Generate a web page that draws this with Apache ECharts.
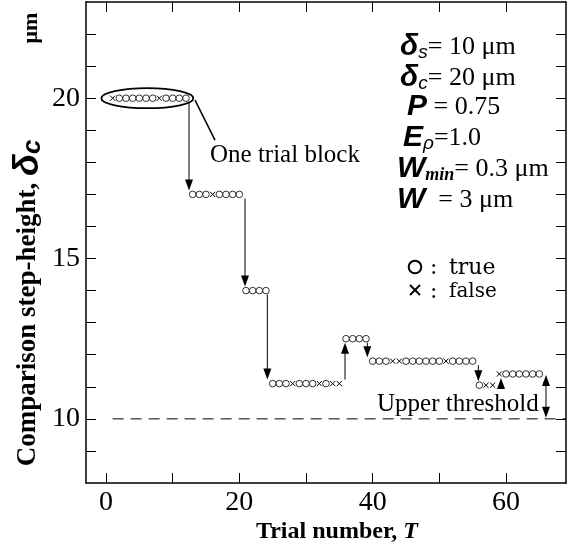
<!DOCTYPE html>
<html><head><meta charset="utf-8">
<script src="https://cdn.jsdelivr.net/npm/echarts@6/dist/echarts.min.js"></script>
<style>html,body{margin:0;padding:0;background:#fff}#c{width:583px;height:554px}</style>
</head><body><div id="c"></div>
<script>
// ---- data ----
const blockStarts   = [1, 13, 21, 25, 36, 40, 56, 59];
const blockLevels   = [20, 17, 14, 11.1, 12.5, 11.8, 11.05, 11.4];
const blockOutcomes = ['xooooooxoooo', 'oooxoooo', 'oooo', 'oooxoooxoxx', 'oooo', 'oooxxooooooxoooo', 'oxx', 'xoooooo'];
const arrowTrials   = [12.45, 20.85, 24.2, 35.85, 39.2, 55.85, 59.25];
const thresholdLevel = 10;
const thresholdTrials = [1, 69];
const boundArrow = [66, 11.4, 10];
const xTickValues = [0, 10, 20, 30, 40, 50, 60];
const xLabelValues = [0, 20, 40, 60];
const yTickValues = [9, 10, 11, 12, 13, 14, 15, 16, 17, 18, 19, 20, 21, 22];
const yLabelValues = [10, 15, 20];
const xRange = [-3, 69];
const yRange = [8, 23];
const blockEllipse = [6.2, 20, 6.9];
const leader = [[13.35, 19.94], [16.35, 18.69]];

// ---- build marks ----
const truePts = [], falsePts = [];
blockStarts.forEach((s, b) => {
  blockOutcomes[b].split('').forEach((c, i) => {
    (c === 'o' ? truePts : falsePts).push([s + i, blockLevels[b]]);
  });
});
const arrowData = arrowTrials.map((t, i) => [t, blockLevels[i], blockLevels[i + 1]]);

const SERIF = 'Liberation Serif, Times New Roman, serif';
const WSERIF = 'DejaVu Serif, serif';
const SANS = 'Liberation Sans, Arial, sans-serif';

function arrowHead(x, tipY, dir) {
  const L = 11, W = 4;
  return {type: 'polygon', shape: {points: [[x, tipY], [x - W, tipY - dir * L], [x + W, tipY - dir * L]]}, style: {fill: '#000'}};
}

const chart = echarts.init(document.getElementById('c'), null, {renderer: 'canvas'});
const axisCommon = {
  axisLine: {show: true, onZero: false, lineStyle: {color: '#000', width: 1.5}},
  splitLine: {show: false}
};
chart.setOption({
  animation: false,
  backgroundColor: '#fff',
  grid: {left: 86, right: 17, top: 2, bottom: 71},
  xAxis: [
    Object.assign({}, axisCommon, {type: 'value', min: xRange[0], max: xRange[1], position: 'bottom',
      axisTick: {show: true, inside: true, length: 10, customValues: xTickValues, lineStyle: {color: '#000', width: 1}},
      axisLabel: {show: true, customValues: xLabelValues, fontFamily: SERIF, fontSize: 28, color: '#000', margin: 6}}),
    Object.assign({}, axisCommon, {type: 'value', min: xRange[0], max: xRange[1], position: 'top',
      axisTick: {show: true, inside: true, length: 10, customValues: xTickValues, lineStyle: {color: '#000', width: 1}},
      axisLabel: {show: false}})
  ],
  yAxis: [
    Object.assign({}, axisCommon, {type: 'value', min: yRange[0], max: yRange[1], position: 'left',
      axisTick: {show: true, inside: true, length: 10, customValues: yTickValues, lineStyle: {color: '#000', width: 1}},
      axisLabel: {show: true, customValues: yLabelValues, fontFamily: SERIF, fontSize: 28, color: '#000', margin: 6}}),
    Object.assign({}, axisCommon, {type: 'value', min: yRange[0], max: yRange[1], position: 'right',
      axisTick: {show: true, inside: true, length: 10, customValues: yTickValues, lineStyle: {color: '#000', width: 1}},
      axisLabel: {show: false}})
  ],
  series: [
    {type: 'line', data: thresholdTrials.map(t => [t, thresholdLevel]), symbol: 'none',
      lineStyle: {color: '#000', width: 1, type: [11, 7]}, silent: true, z: 1},
    {type: 'custom', data: arrowData, z: 3, renderItem(params, api) {
      const x = api.value(0), y0 = api.value(1), y1 = api.value(2);
      const p0 = api.coord([x, y0]), p1 = api.coord([x, y1]);
      const dir = p1[1] > p0[1] ? 1 : -1;
      const sY = p0[1] + dir * 4, tY = p1[1] - dir * 4;
      return {type: 'group', children: [
        {type: 'line', shape: {x1: p0[0], y1: sY, x2: p0[0], y2: tY - dir * 10}, style: {stroke: '#000', lineWidth: 1}},
        arrowHead(p0[0], tY, dir)
      ]};
    }},
    {type: 'custom', data: [boundArrow], z: 3, renderItem(params, api) {
      const x = api.value(0);
      const p0 = api.coord([x, api.value(1)]), p1 = api.coord([x, api.value(2)]);
      const top = p0[1] + 1, bot = p1[1] - 1;
      return {type: 'group', children: [
        {type: 'line', shape: {x1: p0[0], y1: top + 10, x2: p0[0], y2: bot - 10}, style: {stroke: '#000', lineWidth: 1}},
        arrowHead(p0[0], top, -1),
        arrowHead(p0[0], bot, 1)
      ]};
    }},
    {type: 'custom', data: [blockEllipse], z: 2, renderItem(params, api) {
      const c = api.coord([api.value(0), api.value(1)]);
      const rx = api.size([api.value(2), 0])[0];
      const a = api.coord(leader[0]), b = api.coord(leader[1]);
      return {type: 'group', children: [
        {type: 'ellipse', shape: {cx: c[0], cy: c[1], rx: rx, ry: 10}, style: {fill: 'none', stroke: '#000', lineWidth: 1.8}},
        {type: 'line', shape: {x1: a[0], y1: a[1], x2: b[0], y2: b[1]}, style: {stroke: '#000', lineWidth: 1.5}}
      ]};
    }},
    {type: 'scatter', data: truePts, symbol: 'circle', symbolSize: 6.6, z: 4,
      itemStyle: {color: '#fff', borderColor: '#000', borderWidth: 1}},
    {type: 'custom', data: falsePts, z: 4, renderItem(params, api) {
      const p = api.coord([api.value(0), api.value(1)]);
      const r = 2.6;
      return {type: 'group', children: [
        {type: 'line', shape: {x1: p[0] - r, y1: p[1] - r, x2: p[0] + r, y2: p[1] + r}, style: {stroke: '#000', lineWidth: 1}},
        {type: 'line', shape: {x1: p[0] - r, y1: p[1] + r, x2: p[0] + r, y2: p[1] - r}, style: {stroke: '#000', lineWidth: 1}}
      ]};
    }}
  ],
  graphic: [
    // y-axis title
    {type: 'text', x: 28, y: 303, rotation: Math.PI / 2, style: {
      text: '{a|Comparison step-height, }{d|δ}{s|c}', align: 'center', verticalAlign: 'middle',
      rich: {
        a: {fontFamily: SERIF, fontWeight: 'bold', fontSize: 27, fill: '#000'},
        d: {fontFamily: SANS, fontWeight: 'bold', fontStyle: 'italic', fontSize: 36, fill: '#000'},
        s: {fontFamily: SANS, fontWeight: 'bold', fontStyle: 'italic', fontSize: 26, fill: '#000', verticalAlign: 'bottom'}
      }}},
    {type: 'text', x: 31, y: 28, rotation: Math.PI / 2, style: {text: 'μm', align: 'center', verticalAlign: 'middle',
      font: 'bold 22px ' + SERIF, fill: '#000'}},
    // x-axis title
    {type: 'text', x: 337, y: 532, style: {
      text: '{a|Trial number, }{i|T}', align: 'center', verticalAlign: 'middle',
      rich: {
        a: {fontFamily: SERIF, fontWeight: 'bold', fontSize: 24, fill: '#000'},
        i: {fontFamily: SERIF, fontWeight: 'bold', fontStyle: 'italic', fontSize: 24, fill: '#000'}
      }}},
    // annotations
    {type: 'text', x: 210, y: 155, style: {text: 'One trial block', align: 'left', verticalAlign: 'middle', font: '25px ' + SERIF, fill: '#000'}},
    {type: 'text', x: 377, y: 404, style: {text: 'Upper threshold', align: 'left', verticalAlign: 'middle', font: '25px ' + SERIF, fill: '#000'}},
    // legend
    {type: 'circle', shape: {cx: 415, cy: 267, r: 6.3}, style: {fill: 'none', stroke: '#000', lineWidth: 2}},
    {type: 'line', shape: {x1: 410, y1: 285, x2: 420, y2: 295}, style: {stroke: '#000', lineWidth: 2}},
    {type: 'line', shape: {x1: 410, y1: 295, x2: 420, y2: 285}, style: {stroke: '#000', lineWidth: 2}},
    {type: 'text', x: 430, y: 268, style: {text: ':', align: 'left', verticalAlign: 'middle', font: '22px ' + WSERIF, fill: '#000'}},
    {type: 'text', x: 449, y: 268, style: {text: 'true', align: 'left', verticalAlign: 'middle', font: '22px ' + WSERIF, fill: '#000'}},
    {type: 'text', x: 430, y: 292, style: {text: ':', align: 'left', verticalAlign: 'middle', font: '22px ' + WSERIF, fill: '#000'}},
    {type: 'text', x: 449, y: 292, style: {text: 'false', align: 'left', verticalAlign: 'middle', font: '20px ' + WSERIF, fill: '#000'}},
    // parameters
    ...[
      [400, 47, '{G|δ}{sb|s}{t|= 10 μm}'],
      [400, 78, '{G|δ}{sb|c}{t|= 20 μm}'],
      [407, 107, '{G|P}{t| = 0.75}'],
      [403, 138, '{G|E}{sb|ρ}{t|=1.0}'],
      [397, 169, '{G|W}{sm|min}{t|= 0.3 μm}'],
      [397, 200, '{G|W}{t|  = 3 μm}']
    ].map(([x, y, txt]) => ({type: 'text', x: x, y: y, style: {
      text: txt, align: 'left', verticalAlign: 'middle',
      rich: {
        G: {fontFamily: SANS, fontWeight: 'bold', fontStyle: 'italic', fontSize: 30, fill: '#000'},
        sb: {fontFamily: SANS, fontStyle: 'italic', fontSize: 19, fill: '#000', verticalAlign: 'bottom'},
        sm: {fontFamily: SERIF, fontWeight: 'bold', fontStyle: 'italic', fontSize: 18, fill: '#000', verticalAlign: 'bottom'},
        t: {fontFamily: SERIF, fontSize: 26, fill: '#000'}
      }}}))
  ]
});
</script>
</body></html>
